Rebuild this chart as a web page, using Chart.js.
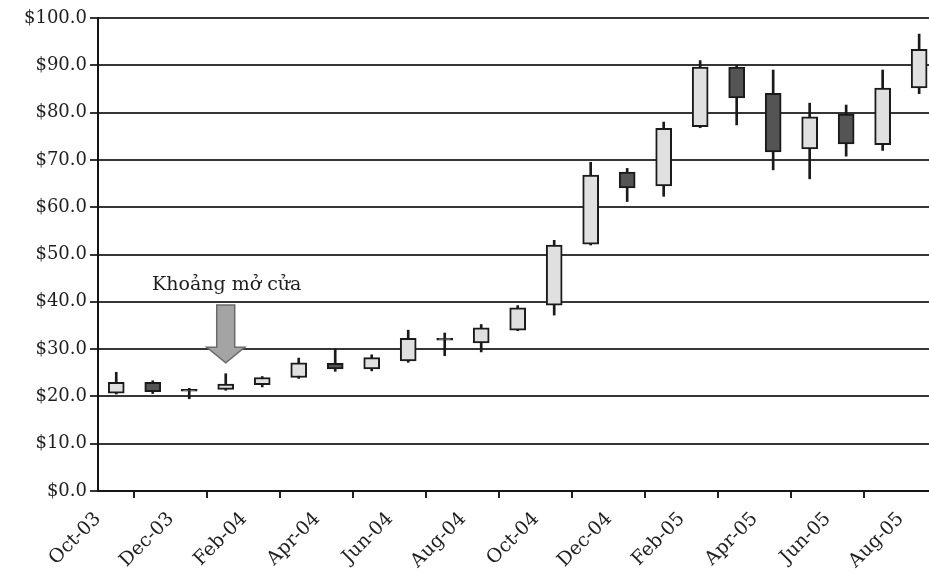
<!DOCTYPE html>
<html><head><meta charset="utf-8">
<script src="https://cdn.jsdelivr.net/npm/chart.js@4"></script>
<style>html,body{margin:0;padding:0;background:#fff}#wrap{width:929px;height:586px}</style>
</head><body><div id="wrap"><canvas id="c" width="929" height="586"></canvas></div>
<script>
const months = ['Oct-03','Nov-03','Dec-03','Jan-04','Feb-04','Mar-04','Apr-04','May-04','Jun-04','Jul-04','Aug-04','Sep-04',
                'Oct-04','Nov-04','Dec-04','Jan-05','Feb-05','Mar-05','Apr-05','May-05','Jun-05','Jul-05','Aug-05'];
const openP  = [20.7, 23.0, 21.5, 21.5, 22.5, 24.0, 27.0, 25.8, 27.5, 32.3, 31.3, 34.0, 39.3, 52.2, 67.4, 64.5, 77.0, 89.6, 84.1, 72.3, 79.7, 73.2, 85.2];
const closeP = [23.0, 21.0, 21.1, 22.6, 24.0, 27.1, 25.8, 28.2, 32.3, 31.9, 34.5, 38.7, 52.0, 66.8, 64.1, 76.7, 89.6, 83.1, 71.7, 79.1, 73.4, 85.2, 93.4];
const highP  = [25.1, 23.3, 21.7, 24.8, 24.2, 28.1, 30.0, 28.8, 34.0, 33.4, 35.2, 39.2, 53.0, 69.5, 68.2, 78.0, 91.0, 90.0, 89.0, 82.0, 81.6, 89.0, 96.6];
const lowP   = [20.5, 20.6, 19.5, 21.3, 22.0, 23.8, 25.3, 25.4, 27.2, 28.6, 29.4, 33.9, 37.2, 52.0, 61.2, 62.3, 76.8, 77.4, 67.9, 66.0, 70.8, 72.0, 84.0];
const yMin = 0, yMax = 100, yStep = 10;
const annotationText = 'Khoảng mở cửa';
const annotationIndex = 3;

const UP = '#e0e0e0', DOWN = '#545454', EDGE = '#1a1a1a';
const FONT = 'DejaVu Serif';
const TXT = '#1e1e1e';

const annot = {
  id: 'annot',
  afterDraw(chart) {
    const {ctx, scales: {x, y}} = chart;
    const cx = x.getPixelForValue(annotationIndex + 0.5);
    const yTop = y.getPixelForValue(39.3), yHead = y.getPixelForValue(30.4), yTip = y.getPixelForValue(27.1);
    ctx.save();
    ctx.beginPath();
    ctx.moveTo(cx - 9, yTop); ctx.lineTo(cx + 9, yTop); ctx.lineTo(cx + 9, yHead);
    ctx.lineTo(cx + 19, yHead); ctx.lineTo(cx, yTip); ctx.lineTo(cx - 19, yHead);
    ctx.lineTo(cx - 9, yHead); ctx.closePath();
    ctx.fillStyle = '#a4a4a4'; ctx.fill();
    ctx.strokeStyle = '#6a6a6a'; ctx.lineWidth = 1.5; ctx.stroke();
    ctx.fillStyle = TXT;
    ctx.font = '19px "' + FONT + '"';
    ctx.textAlign = 'center'; ctx.textBaseline = 'alphabetic';
    ctx.fillText(annotationText, cx + 1, y.getPixelForValue(42.5));
    ctx.restore();
  }
};

new Chart(document.getElementById('c'), {
  type: 'bar',
  data: {
    datasets: [
      {
        label: 'Body',
        data: months.map((m, i) => ({x: i + 0.5, y: [openP[i], closeP[i]]})),
        backgroundColor: months.map((m, i) => closeP[i] >= openP[i] ? UP : DOWN),
        borderColor: EDGE, borderWidth: 2, borderSkipped: false,
        barThickness: 16, grouped: false, order: 1
      },
      {
        label: 'Range',
        data: months.map((m, i) => ({x: i + 0.5, y: [lowP[i], highP[i]]})),
        backgroundColor: EDGE, borderWidth: 0,
        barThickness: 2, grouped: false, order: 2
      }
    ]
  },
  options: {
    responsive: false, animation: false, devicePixelRatio: 1,
    layout: {padding: {top: 18, right: 0, left: 0, bottom: 0}},
    plugins: {legend: {display: false}, tooltip: {enabled: false}},
    scales: {
      x: {
        type: 'linear', min: 0, max: 22.77, offset: false,
        afterFit(s) { s.height = 95; },
        border: {display: true, color: '#151515', width: 2},
        grid: {display: true, drawOnChartArea: false, drawTicks: true, tickLength: 7, color: '#222', lineWidth: 2},
        ticks: {stepSize: 2, includeBounds: false, autoSkip: false, maxRotation: 45, minRotation: 45,
                color: TXT, font: {family: FONT, size: 19}, padding: 10,
                callback: v => months[v] || ''}
      },
      y: {
        min: yMin, max: yMax,
        afterFit(s) { s.width = 98; },
        border: {display: true, color: '#151515', width: 2},
        grid: {color: '#363636', lineWidth: 2, tickLength: 8},
        ticks: {stepSize: yStep, color: TXT, font: {family: FONT, size: 18}, padding: 3,
                callback: v => '$' + v.toFixed(1)}
      }
    }
  },
  plugins: [annot]
});
</script></body></html>
